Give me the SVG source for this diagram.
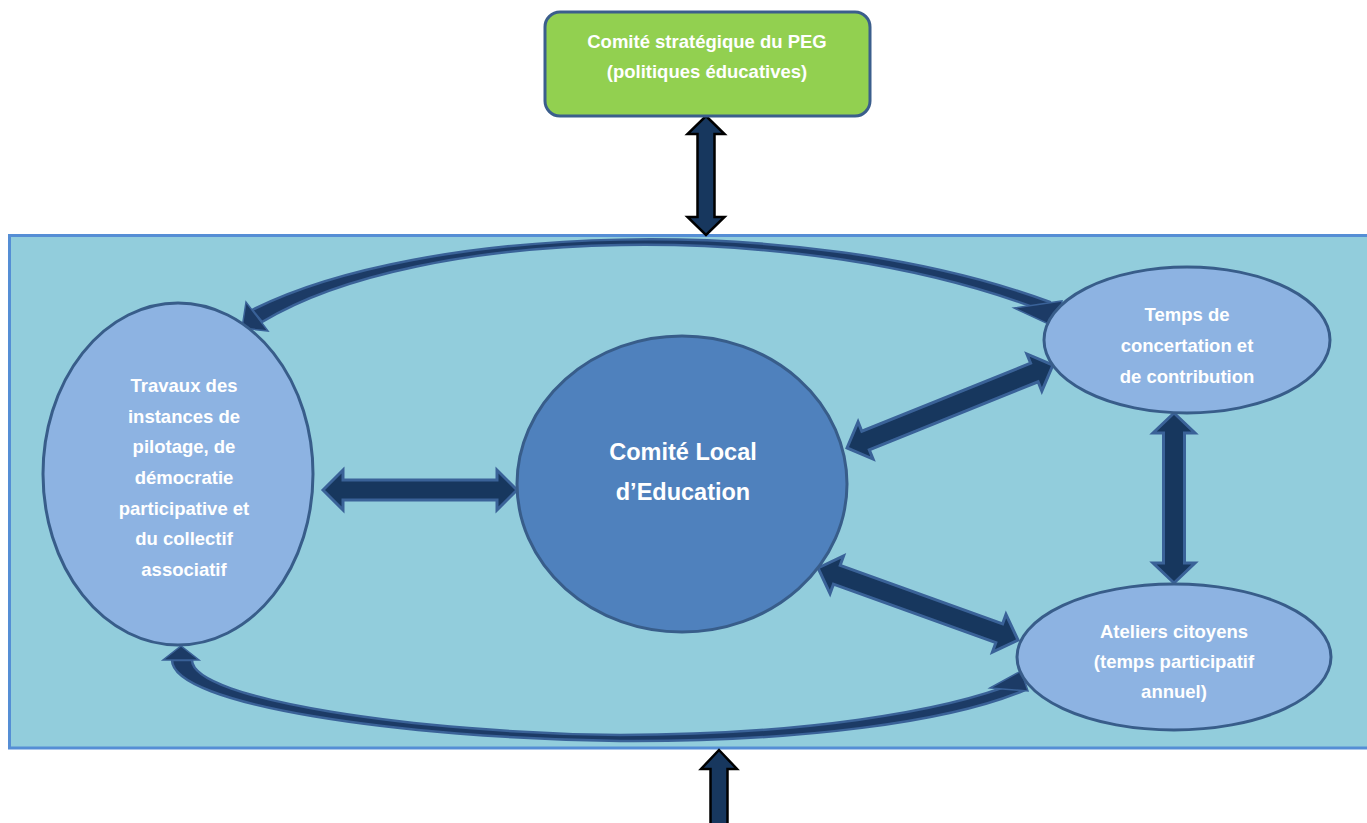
<svg xmlns="http://www.w3.org/2000/svg" width="1367" height="823" viewBox="0 0 1367 823">
<style>
.lbl{font-family:"Liberation Sans",Arial,sans-serif;font-weight:bold;fill:#ffffff;text-anchor:middle;font-size:18.5px}
.big{font-size:23.5px}
.ell{fill:#8db3e2;stroke:#385d8a;stroke-width:3}
.dbl{fill:#17375e;stroke:#3a6298;stroke-width:3;stroke-linejoin:miter}
.blk{fill:#17375e;stroke:#000000;stroke-width:2.5;stroke-linejoin:miter}
.band{fill:#1c3b66;stroke:#3a6298;stroke-width:2.5;stroke-linejoin:round}
.head{fill:#1c3b66;stroke:#3a6298;stroke-width:1.5;stroke-linejoin:miter}
</style>
<rect width="1367" height="823" fill="#ffffff"/>
<g id="cadre">
<rect x="9.5" y="235.5" width="1400" height="512.5" fill="#92cddc" stroke="#558ed5" stroke-width="3"/>
</g>
<g id="connectors">
<!-- top curved double arrow -->
<path class="band" d="M 252 310 C 420 225, 800 210, 1050 302 L 1046 312 C 800 216, 420 226, 262 322 Z"/>
<polygon class="head" points="242,328 246,302 268,331"/>
<polygon class="head" points="1014,308 1062,301 1057,328"/>
<!-- bottom curved double arrow -->
<path class="band" d="M 172 660 C 172 705, 400 738, 620 741 C 800 742, 950 722, 1025 690 L 1018 682 C 945 712, 800 735, 620 735 C 420 733, 192 700, 192 660 Z"/>
<polygon class="head" points="163,660 199,660 181,646"/>
<polygon class="head" points="990,688 1021,671 1028,691"/>
<!-- vertical arrow to strategic committee -->
<polygon class="blk" points="706,116 724.5,134 714.5,134 714.5,217 724.5,217 706,235 687.5,217 697.5,217 697.5,134 687.5,134"/>
<!-- bottom incoming arrow -->
<polygon class="blk" points="719,750 737,769 727.5,769 727.5,840 710.5,840 710.5,769 701,769"/>
<!-- CLE <-> Travaux -->
<g transform="translate(323,490)">
<polygon class="dbl" points="0,0 20,-20 20,-10 174,-10 174,-20 194,0 174,20 174,10 20,10 20,20"/>
</g>
<!-- CLE <-> Temps de concertation -->
<g transform="translate(847,448) rotate(-21.95)">
<polygon class="dbl" points="0,0 20,-20 20,-10 202,-10 202,-20 222,0 202,20 202,10 20,10 20,20"/>
</g>
<!-- CLE <-> Ateliers -->
<g transform="translate(818,568) rotate(19.8)">
<polygon class="dbl" points="0,0 20,-20 20,-10 192.6,-10 192.6,-20 212.6,0 192.6,20 192.6,10 20,10 20,20"/>
</g>
<!-- Temps <-> Ateliers -->
<g transform="translate(1174,413) rotate(90)">
<polygon class="dbl" points="0,0 20,-21 20,-10.5 150,-10.5 150,-21 170,0 150,21 150,10.5 20,10.5 20,21"/>
</g>
</g>
<g id="comite-strategique">
<rect x="545" y="12" width="325" height="104" rx="15" ry="15" fill="#92d050" stroke="#3b5e8c" stroke-width="3"/>
<text class="lbl" x="707" y="48">Comité stratégique du PEG</text>
<text class="lbl" x="707" y="78">(politiques éducatives)</text>
</g>
<g id="travaux">
<ellipse class="ell" cx="178" cy="474" rx="135" ry="171"/>
<text class="lbl" x="184" y="392">Travaux des</text>
<text class="lbl" x="184" y="422.5">instances de</text>
<text class="lbl" x="184" y="453">pilotage, de</text>
<text class="lbl" x="184" y="484">démocratie</text>
<text class="lbl" x="184" y="514.5">participative et</text>
<text class="lbl" x="184" y="545">du collectif</text>
<text class="lbl" x="184" y="576">associatif</text>
</g>
<g id="comite-local">
<ellipse cx="682" cy="484" rx="165" ry="148" fill="#4f81bd" stroke="#385d8a" stroke-width="3"/>
<text class="lbl big" x="683" y="460">Comité Local</text>
<text class="lbl big" x="683" y="500">d’Education</text>
</g>
<g id="temps-concertation">
<ellipse class="ell" cx="1187" cy="340" rx="143" ry="73"/>
<text class="lbl" x="1187" y="321">Temps de</text>
<text class="lbl" x="1187" y="352">concertation et</text>
<text class="lbl" x="1187" y="383">de contribution</text>
</g>
<g id="ateliers">
<ellipse class="ell" cx="1174" cy="657" rx="157" ry="73"/>
<text class="lbl" x="1174" y="638">Ateliers citoyens</text>
<text class="lbl" x="1174" y="668">(temps participatif</text>
<text class="lbl" x="1174" y="698">annuel)</text>
</g>
</svg>
